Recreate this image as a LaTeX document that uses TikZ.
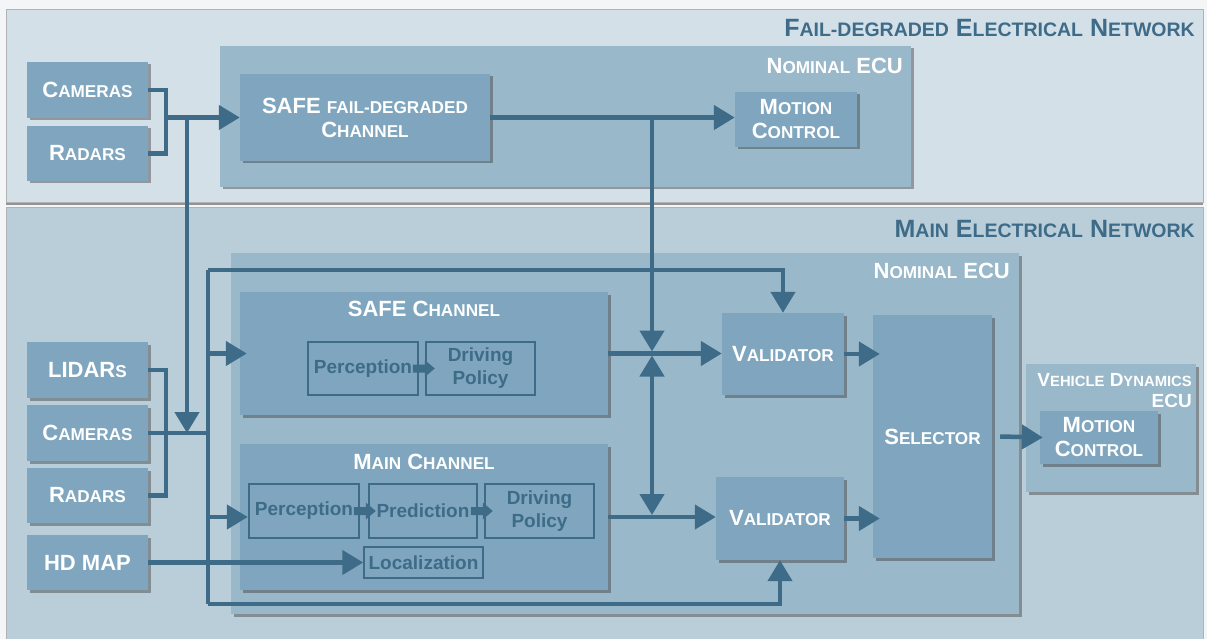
\documentclass[tikz,border=0pt]{standalone}
\usepackage{fontspec}
\setmainfont{Liberation Sans}
\usetikzlibrary{arrows.meta,shadows,calc}

\definecolor{pagebg}{HTML}{F3F5F7}
\definecolor{netfd}{HTML}{D4E0E8}
\definecolor{netmain}{HTML}{BACEDA}
\definecolor{ecufill}{HTML}{99B8CA}
\definecolor{blkfill}{HTML}{7FA6BE}
\definecolor{ink}{HTML}{3D6B88}

% faked small capitals: lower-case part set in reduced capitals
\newcommand\sm[1]{\scalebox{0.78}{#1}}

\tikzset{
  shade box/.style={drop shadow={shadow xshift=2.5pt,shadow yshift=-2.5pt,opacity=0.45,fill=black!75}},
  net/.style={draw=black!30,line width=0.8pt,inner sep=0pt},
  nettitle/.style={text=ink,font=\fontsize{25}{27}\selectfont\bfseries,inner sep=0pt,anchor=east},
  ecubox/.style={fill=ecufill,inner sep=0pt,shade box},
  ecutitle/.style={text=white,font=\fontsize{22}{24}\selectfont\bfseries,inner sep=0pt,anchor=east,align=right},
  blk/.style={fill=blkfill,text=white,font=\fontsize{22}{24}\selectfont\bfseries,align=center,inner sep=0pt,shade box},
  chtitle/.style={text=white,font=\fontsize{22}{24}\selectfont\bfseries,inner sep=0pt},
  sub/.style={draw=ink,line width=1.5pt,text=ink,font=\fontsize{19}{23}\selectfont\bfseries,align=center,inner sep=0pt},
  wire/.style={draw=ink,line width=4.5pt},
  arr/.style={wire,-{Triangle[length=21pt,width=24pt]}},
  darr/.style={wire,{Triangle[length=21pt,width=24pt]}-{Triangle[length=21pt,width=24pt]}},
  % short block arrow linking two stages of a channel
  blockarrow/.pic={\fill[ink] (0,-4) -- (12,-4) -- (12,-8.5) -- (22,0) -- (12,8.5) -- (12,4) -- (0,4) -- cycle;},
}

\begin{document}
\begin{tikzpicture}[x=1pt,y=-1pt]
\useasboundingbox (0,0) rectangle (1207,639);
\fill[pagebg] (0,0) rectangle (1207,639);

% ---------- networks ----------
\node[net,fill=netmain,minimum width=1197,minimum height=440] (mainnet) at (604.5,427) {};
\node[nettitle] (mainnettitle) at (1195,229) {M\sm{AIN} E\sm{LECTRICAL} N\sm{ETWORK}};

\node[net,fill=netfd,minimum width=1197,minimum height=193,
      drop shadow={shadow xshift=0pt,shadow yshift=-3pt,opacity=0.5,fill=black!80}] (fdnet) at (604.5,105.5) {};
\node[nettitle] (fdnettitle) at (1195,28) {F\sm{AIL-DEGRADED} E\sm{LECTRICAL} N\sm{ETWORK}};

% ---------- fail-degraded side ----------
\node[ecubox,minimum width=691,minimum height=141] (ecutop) at (565.5,116.5) {};
\node[ecutitle] (ecutoptitle) at (903,66) {N\sm{OMINAL} ECU};

\node[blk,minimum width=121,minimum height=56] (camT) at (87.5,90) {C\sm{AMERAS}};
\node[blk,minimum width=121,minimum height=55] (radT) at (87.5,153.5) {R\sm{ADARS}};
\node[blk,minimum width=250,minimum height=87] (sfd) at (365,117.5) {SAFE \sm{FAIL-DEGRADED}\\C\sm{HANNEL}};
\node[blk,minimum width=122,minimum height=55] (mcT) at (796,119.5) {M\sm{OTION}\\C\sm{ONTROL}};

% ---------- main side ----------
\node[ecubox,minimum width=788,minimum height=361] (ecumain) at (625,433.5) {};
\node[ecutitle] (ecumaintitle) at (1010,271) {N\sm{OMINAL} ECU};

\node[blk,minimum width=368,minimum height=123] (safech) at (424,353.5) {};
\node[chtitle] (safechtitle) at (424,309) {SAFE C\sm{HANNEL}};
\node[blk,minimum width=368,minimum height=146] (mainch) at (424,517) {};
\node[chtitle] (mainchtitle) at (424,462) {M\sm{AIN} C\sm{HANNEL}};

\node[sub,minimum width=110,minimum height=53] (sp1) at (363,368.5) {Perception};
\node[sub,minimum width=109,minimum height=53] (sp2) at (480.5,368.5) {Driving\\Policy};
\node[sub,minimum width=110,minimum height=54] (mp1) at (304,511) {Perception};
\node[sub,minimum width=108,minimum height=54] (mp2) at (423,511) {Prediction};
\node[sub,minimum width=109,minimum height=54] (mp3) at (539.5,511) {Driving\\Policy};
\node[sub,minimum width=119,minimum height=31] (loc) at (423.5,562.5) {Localization};

\node[blk,minimum width=122,minimum height=82] (val1) at (783,354) {V\sm{ALIDATOR}};
\node[blk,minimum width=128,minimum height=83] (val2) at (780,518.5) {V\sm{ALIDATOR}};
\node[blk,minimum width=119,minimum height=243] (sel) at (932.5,436.5) {S\sm{ELECTOR}};

\node[ecubox,minimum width=170,minimum height=128] (vdecu) at (1111,428) {};
\node[ecutitle,font=\fontsize{19}{21}\selectfont\bfseries] (vdtitle) at (1192,391) {V\sm{EHICLE} D\sm{YNAMICS}\\ECU};
\node[blk,minimum width=118,minimum height=53] (mcV) at (1099,437.5) {M\sm{OTION}\\C\sm{ONTROL}};

\node[blk,minimum width=121,minimum height=56] (lidar) at (87.5,370) {LIDAR\sm{S}};
\node[blk,minimum width=121,minimum height=56] (camM) at (87.5,433) {C\sm{AMERAS}};
\node[blk,minimum width=121,minimum height=55] (radM) at (87.5,495.5) {R\sm{ADARS}};
\node[blk,minimum width=121,minimum height=55] (hdmap) at (87.5,562.5) {HD MAP};

% ---------- junction points ----------
\coordinate (jT) at (166,117.5);
\coordinate (busTop) at (187,117.5);
\coordinate (busEnd) at (187,433);
\coordinate (feedTop) at (208,270);
\coordinate (feedBot) at (208,604);
\coordinate (jF) at (652,117.5);
\coordinate (jS) at (652,353.5);
\coordinate (jM) at (652,517);

% ---------- connectors: fail-degraded network ----------
\draw[wire] (camT.east) -- ++(18,0) |- (radT.east);
\draw[arr] (jT) -- (sfd.west);
\draw[arr] (sfd.east) -- (sfd.east -| mcT.west);
\draw[arr] (busTop) -- (busEnd);
\draw[arr,shorten >=2pt] (jF) -- (jS);

% ---------- connectors: main network ----------
\draw[wire] (lidar.east) -- ++(18,0) |- (radM.east);
\draw[wire] (camM.east) -- (feedTop |- camM.east);
\draw[wire] (feedTop) -- (feedBot);
\draw[arr] (feedTop) -| (val1.north);
\draw[arr] (feedBot) -| (val2.south);
\draw[arr] (feedTop |- safech.west) -- ([xshift=7pt]safech.west);
\draw[arr] (feedTop |- mainch.west) -- ([xshift=8pt]mainch.west);
\draw[arr] (hdmap.east) -- (loc.west);

\draw[arr] (safech.east) -- (safech.east -| val1.west);
\draw[arr] (mainch.east) -- (mainch.east -| val2.west);
\draw[darr,shorten <=2pt,shorten >=2pt] (jS) -- (jM);

\draw[arr] (val1.east) -- ([xshift=7pt]sel.west |- val1.east);
\draw[arr] (val2.east) -- ([xshift=7pt]sel.west |- val2.east);
\draw[arr] ([xshift=8pt]sel.east) -- ([xshift=3pt]mcV.west);

% ---------- block arrows between channel stages ----------
\pic at ([xshift=-6pt]sp1.east) {blockarrow};
\pic at ([xshift=-6pt]mp1.east) {blockarrow};
\pic at ([xshift=-7pt]mp2.east) {blockarrow};
\end{tikzpicture}
\end{document}
